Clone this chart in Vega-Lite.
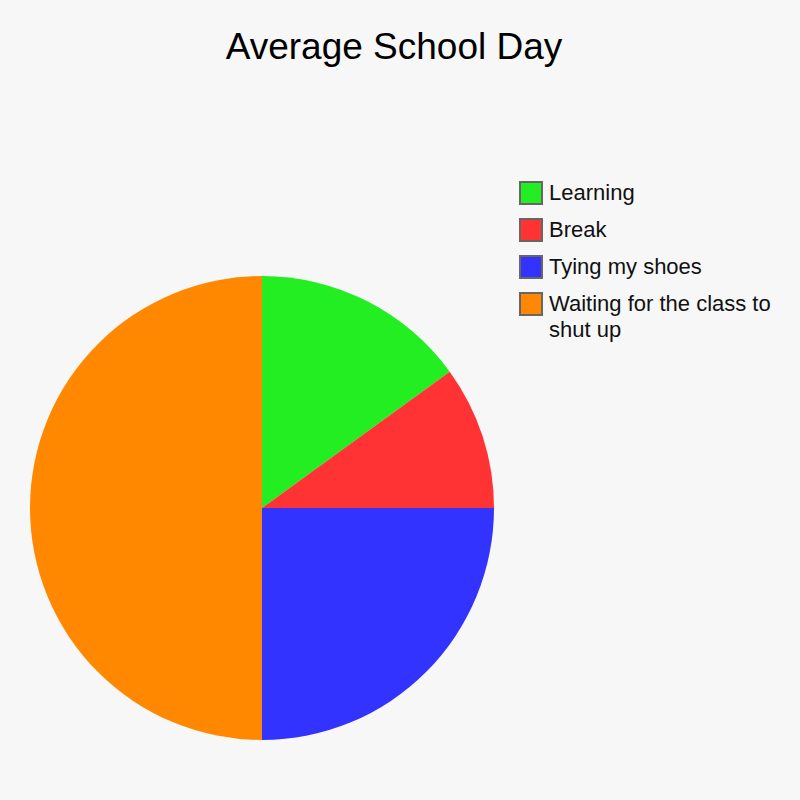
{
  "$schema": "https://vega.github.io/schema/vega-lite/v6.json",
  "description": "Average School Day pie chart",
  "autosize": {"type": "none"},
  "width": 464,
  "height": 464,
  "padding": {"left": 30, "top": 276, "right": 306, "bottom": 60},
  "background": "#f7f7f7",
  "config": {"style": {"guide-label": {"lineHeight": 26}}},
  "title": {
    "text": "Average School Day",
    "font": "Liberation Sans",
    "fontSize": 37,
    "fontWeight": "normal",
    "color": "#000000",
    "anchor": "middle",
    "frame": "group",
    "dx": 132,
    "offset": 114
  },
  "data": {
    "values": [
      {"activity": "Learning", "share": 15, "idx": 1},
      {"activity": "Break", "share": 10, "idx": 2},
      {"activity": "Tying my shoes", "share": 25, "idx": 3},
      {"activity": "Waiting for the class to shut up", "share": 50, "idx": 4}
    ]
  },
  "mark": {"type": "arc", "stroke": null},
  "encoding": {
    "theta": {"field": "share", "type": "quantitative", "stack": true},
    "order": {"field": "idx", "type": "quantitative"},
    "color": {
      "field": "activity",
      "type": "nominal",
      "scale": {
        "domain": ["Learning", "Break", "Tying my shoes", "Waiting for the class to shut up"],
        "range": ["#22ee22", "#ff3333", "#3333ff", "#ff8800"]
      },
      "legend": {
        "title": null,
        "orient": "none",
        "legendX": 489,
        "legendY": -95,
        "symbolType": "square",
        "symbolSize": 484,
        "symbolStrokeColor": "#666666",
        "symbolStrokeWidth": 2,
        "symbolOpacity": 1,
        "labelFont": "Liberation Sans",
        "labelFontSize": 22,
        "labelColor": "#111111",
        "labelOffset": 6,
        "labelLimit": 400,
        "rowPadding": 7,
        "labelExpr": "datum.label == 'Waiting for the class to shut up' ? ['Waiting for the class to', 'shut up'] : datum.label"
      }
    }
  }
}
